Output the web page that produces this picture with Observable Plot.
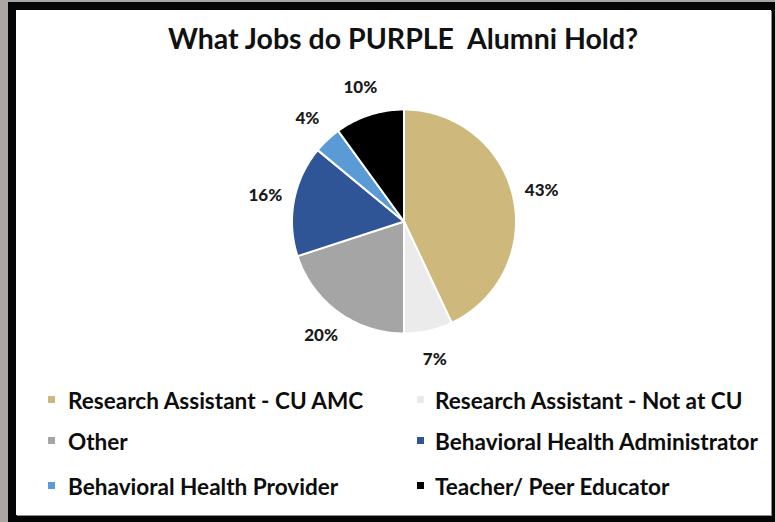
<!DOCTYPE html>
<html>
<head>
<meta charset="utf-8">
<script src="https://cdn.jsdelivr.net/npm/d3@7"></script>
<script src="https://cdn.jsdelivr.net/npm/@observablehq/plot@0.6"></script>
<style>
  html, body { margin: 0; padding: 0; width: 775px; height: 522px; overflow: hidden; background: #a9a6a4; }
  #frame { position: absolute; left: 8px; top: 2px; width: 767px; height: 520px; background: #050505; }
  #card { position: absolute; left: 16px; top: 10px; width: 755px; height: 505px; background: #ffffff;
          overflow: hidden; font-family: Lato, "Open Sans", sans-serif; box-shadow: 1px 1px 0 #8c8c8c; }
  #title { position: absolute; margin: 0; font-weight: bold; color: #111; white-space: pre; line-height: 1.2; }
  #chart { position: absolute; left: 0; top: 70px; }
  .lg-text { position: absolute; font-weight: bold; color: #0d0d0d; white-space: pre; line-height: 1.2; }
  .lg-swatch { position: absolute; width: 7px; height: 7px; }
</style>
</head>
<body>
<div id="frame"></div>
<div id="card">
  <h1 id="title"></h1>
  <div id="chart"></div>
  <div id="legend"></div>
</div>
<script>
// ---- data ----
const titleText = "What Jobs do PURPLE  Alumni Hold?";
const categories = [
  "Research Assistant - CU AMC",
  "Research Assistant - Not at CU",
  "Other",
  "Behavioral Health Administrator",
  "Behavioral Health Provider",
  "Teacher/ Peer Educator"
];
const shares = [43, 7, 20, 16, 4, 10];
const colors = ["#CFB87C", "#EBEBEB", "#A5A5A5", "#2F5597", "#5B9BD5", "#000000"];

// ---- geometry from data ----
const arcs = d3.pie().sort(null).value(d => d)(shares);
const features = arcs.map((a, i) => {
  const n = Math.max(2, Math.ceil((a.endAngle - a.startAngle) / (Math.PI / 180)));
  const ring = [[0, 0]];
  for (let k = 0; k <= n; k++) {
    const t = a.startAngle + (a.endAngle - a.startAngle) * k / n;
    ring.push([Math.sin(t), Math.cos(t)]);
  }
  ring.push([0, 0]);
  return {type: "Feature", properties: {category: categories[i]}, geometry: {type: "Polygon", coordinates: [ring]}};
});
const labelRadius = 1.26;
const labels = arcs.map((a, i) => {
  const m = (a.startAngle + a.endAngle) / 2;
  return {x: labelRadius * Math.sin(m), y: labelRadius * Math.cos(m), text: `${shares[i]}%`};
});

const R = 112;
const plot = Plot.plot({
  width: 755,
  height: 300,
  margin: 0,
  projection: d3.geoIdentity().reflectY(true).scale(R).translate([387.5, 141]),
  color: {domain: categories, range: colors},
  style: {fontFamily: "Lato, 'Open Sans', sans-serif", background: "transparent", overflow: "visible"},
  marks: [
    Plot.geo(features, {fill: d => d.properties.category, stroke: "#ffffff", strokeWidth: 2}),
    Plot.text(labels, {x: "x", y: "y", text: "text", fontSize: 17, fontWeight: "900", fill: "#1a1a1a"})
  ]
});
document.getElementById("chart").appendChild(plot);
const color = plot.scale("color");

// ---- text helpers ----
const ctx = document.createElement("canvas").getContext("2d");
function fitSize(text, targetWidth) {
  ctx.font = "bold 100px Lato";
  return 100 * targetWidth / ctx.measureText(text).width;
}
function placeBaseline(el, left, baseline) {
  el.style.left = left + "px";
  el.style.top = "0px";
  const probe = document.createElement("span");
  probe.style.display = "inline-block";
  probe.style.width = "0px";
  probe.style.height = "0px";
  el.appendChild(probe);
  const offset = probe.getBoundingClientRect().bottom - el.getBoundingClientRect().top;
  el.removeChild(probe);
  el.style.top = (baseline - offset) + "px";
}

// ---- title ----
const title = document.getElementById("title");
title.textContent = titleText;
title.style.fontSize = fitSize(titleText, 472) + "px";
placeBaseline(title, 152, 38.5);

// ---- legend ----
const legend = document.getElementById("legend");
const lgSize = fitSize(categories[0], 297);
const colSwatch = [32, 401];
const colText = [52, 419];
const rowBase = [399, 440, 485];
categories.forEach((c, i) => {
  const col = i % 2, row = Math.floor(i / 2);
  const sw = document.createElement("div");
  sw.className = "lg-swatch";
  sw.style.background = color.apply(c);
  sw.style.left = colSwatch[col] + "px";
  sw.style.top = (rowBase[row] - 13) + "px";
  legend.appendChild(sw);
  const t = document.createElement("div");
  t.className = "lg-text";
  t.style.fontSize = lgSize + "px";
  t.textContent = c;
  legend.appendChild(t);
  placeBaseline(t, colText[col], rowBase[row]);
});
</script>
</body>
</html>
